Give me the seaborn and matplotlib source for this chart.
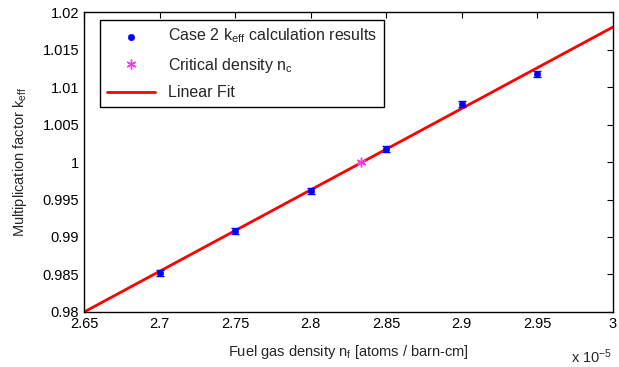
import matplotlib
matplotlib.use("Agg")
import matplotlib.pyplot as plt
import seaborn as sns
import numpy as np
import pandas as pd
from matplotlib.ticker import FormatStrFormatter

# data (x in units of 1e-5 atoms / barn-cm)
density = [2.70, 2.75, 2.80, 2.85, 2.90, 2.95]
keff = [0.9852, 0.9908, 0.9961, 1.0017, 1.0078, 1.0118]
keff_err = [0.0004, 0.0004, 0.0004, 0.0004, 0.0004, 0.0004]
crit_density = [2.833]
crit_keff = [1.0]
fit_x = [2.65, 3.00]
fit_y = [0.9800, 1.0180]

sns.set_style("white")
plt.rcParams['font.family'] = ['Liberation Sans', 'DejaVu Sans']
plt.rcParams['mathtext.default'] = 'regular'
plt.rcParams['xtick.direction'] = 'in'
plt.rcParams['ytick.direction'] = 'in'

fig = plt.figure(figsize=(6.19, 3.67), dpi=100)
ax = fig.add_axes([0.136, 0.150, 0.854, 0.817])

pts = pd.DataFrame({"x": density, "y": keff})
ax.errorbar(density, keff, yerr=keff_err, fmt='none', ecolor='blue',
            elinewidth=1, capsize=3, zorder=2)
sns.scatterplot(data=pts, x="x", y="y", color='blue', s=22, edgecolor='blue',
                ax=ax, label=r"Case 2 k$_{eff}$ calculation results", zorder=3)
ax.plot(crit_density, crit_keff, linestyle='none', marker=(6, 2, 0), color='#ff33ff',
        markersize=7, markeredgewidth=1, label=r"Critical density n$_c$", zorder=4)
sns.lineplot(x=fit_x, y=fit_y, color='red', linewidth=2, ax=ax, label="Linear Fit", zorder=1)

ax.set_xlim(2.65, 3.0)
ax.set_ylim(0.98, 1.02)
ax.set_xticks(np.arange(2.65, 3.001, 0.05))
ax.set_yticks(np.arange(0.98, 1.0201, 0.005))
ax.xaxis.set_major_formatter(FormatStrFormatter('%g'))
ax.yaxis.set_major_formatter(FormatStrFormatter('%g'))
ax.tick_params(top=True, right=True, length=4, width=0.8, labelsize=10.5, colors='black')
for sp in ax.spines.values():
    sp.set_color('black')
    sp.set_linewidth(1)

ax.set_xlabel(r"Fuel gas density n$_f$ [atoms / barn-cm]", fontsize=10.5, labelpad=9)
ax.set_ylabel(r"Multiplication factor k$_{eff}$", fontsize=10.5, labelpad=10)
fig.text(0.922, 0.012, r"x 10$^{-5}$", fontsize=10.5)

leg = ax.legend(loc='upper left', bbox_to_anchor=(0.03, 0.975), fontsize=11.5,
                frameon=True, fancybox=False, edgecolor='black', framealpha=1,
                borderaxespad=0, handlelength=3.0, labelspacing=0.65, borderpad=0.45)
leg.get_frame().set_linewidth(1)

fig.savefig("out.png", dpi=100)
